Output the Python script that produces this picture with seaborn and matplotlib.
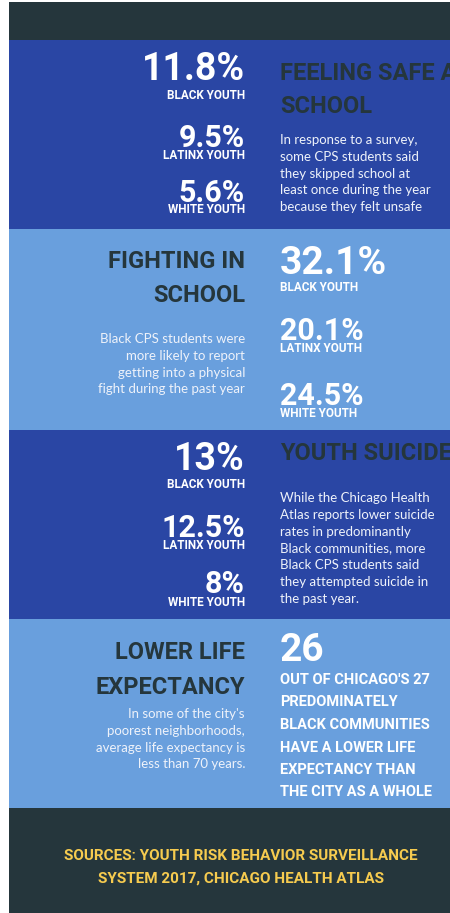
import matplotlib
matplotlib.use('Agg')
import matplotlib.pyplot as plt
import seaborn as sns

# Colours
DARK_BLUE = '#2a46a4'
LIGHT_BLUE = '#699fdd'
SLATE = '#25363c'
YELLOW = '#f6cb4f'
BODY = '#eef2fa'

# Data
groups = ['BLACK YOUTH', 'LATINX YOUTH', 'WHITE YOUTH']
skipped_school_pct = [11.8, 9.5, 5.6]
fighting_pct = [32.1, 20.1, 24.5]
suicide_attempt_pct = [13, 12.5, 8]
lower_life_communities = 26
black_communities = 27

titles = [['FEELING SAFE AT', 'SCHOOL'],
          ['FIGHTING IN', 'SCHOOL'],
          ['YOUTH SUICIDE'],
          ['LOWER LIFE', 'EXPECTANCY']]
bodies = [['In response to a survey,', 'some CPS students said', 'they skipped school at',
           'least once during the year', 'because they felt unsafe'],
          ['Black CPS students were', 'more likely to report', 'getting into a physical',
           'fight during the past year'],
          ['While the Chicago Health', 'Atlas reports lower suicide', 'rates in predominantly',
           'Black communities, more', 'Black CPS students said', 'they attempted suicide in',
           'the past year.'],
          ["In some of the city's", 'poorest neighborhoods,', 'average life expectancy is',
           'less than 70 years.']]
life_lines = [f"OUT OF CHICAGO'S {black_communities}", 'PREDOMINATELY', 'BLACK COMMUNITIES',
              'HAVE A LOWER LIFE', 'EXPECTANCY THAN', 'THE CITY AS A WHOLE']
sources = ['SOURCES: YOUTH RISK BEHAVIOR SURVEILLANCE', 'SYSTEM 2017, CHICAGO HEALTH ATLAS']

sns.set_theme(style='white')
HEAVY = ['Roboto', 'DejaVu Sans']
plt.rcParams['font.family'] = ['Lato', 'DejaVu Sans']

W, H = 450, 913
fig = plt.figure(figsize=(4.5, 9.13), dpi=100)
fig.patch.set_facecolor('white')
ax = fig.add_axes([0, 0, 1, 1])
ax.set_xlim(0, W)
ax.set_ylim(H, 0)
ax.axis('off')

# Background bands (top, four sections, footer)
band_edges = [2, 40, 229, 430, 619, 808, 913]
band_colors = [SLATE, DARK_BLUE, LIGHT_BLUE, DARK_BLUE, LIGHT_BLUE, SLATE]
for (y0, y1), c in zip(zip(band_edges[:-1], band_edges[1:]), band_colors):
    ax.axhspan(y0, y1, xmin=9 / W, xmax=1, color=c, lw=0, zorder=0)


def heavy(x, y, s, size, color='white', ha='left'):
    ax.text(x, y, s, fontsize=size, color=color, ha=ha, va='baseline',
            family=HEAVY, fontweight='bold')


def stat_column(x, ha, values, num_base, lab_base, first_size=27):
    for i, (v, g) in enumerate(zip(values, groups)):
        heavy(x, num_base[i], f'{v:g}%', first_size if i == 0 else 22, ha=ha)
        heavy(x, lab_base[i], g, 8.5, ha=ha)


def title_block(x, ha, lines, bases):
    for s, y in zip(lines, bases):
        heavy(x, y, s, 17, color=SLATE, ha=ha)


def body_block(x, ha, lines, y0, step=16.8):
    for i, s in enumerate(lines):
        ax.text(x, y0 + i * step, s, fontsize=9.5, color=BODY, ha=ha, va='baseline')


LEFT_COL, RIGHT_COL = 245, 280

# Section 1: feeling safe at school
stat_column(LEFT_COL, 'right', skipped_school_pct, [80, 147, 202], [99, 159, 213])
title_block(RIGHT_COL, 'left', titles[0], [80, 113])
body_block(RIGHT_COL, 'left', bodies[0], 144)

# Section 2: fighting in school
title_block(LEFT_COL, 'right', titles[1], [268, 302])
body_block(LEFT_COL, 'right', bodies[1], 343)
stat_column(RIGHT_COL, 'left', fighting_pct, [274, 340, 405], [291, 352, 417], first_size=28)

# Section 3: youth suicide
stat_column(LEFT_COL, 'right', suicide_attempt_pct, [470, 537, 593], [488, 549, 606])
title_block(RIGHT_COL, 'left', titles[2], [460])
body_block(RIGHT_COL, 'left', bodies[2], 502)

# Section 4: lower life expectancy
title_block(LEFT_COL, 'right', titles[3], [659, 694])
body_block(LEFT_COL, 'right', bodies[3], 718)
heavy(RIGHT_COL, 661, f'{lower_life_communities}', 28)
for i, s in enumerate(life_lines):
    heavy(RIGHT_COL, 684 + i * 22.5, s, 10.5)

# Footer
for s, y in zip(sources, [860, 883]):
    ax.text(241, y, s, fontsize=11, color=YELLOW, ha='center', va='baseline',
            family=HEAVY, fontweight='bold')

fig.savefig('out.png', dpi=100)
